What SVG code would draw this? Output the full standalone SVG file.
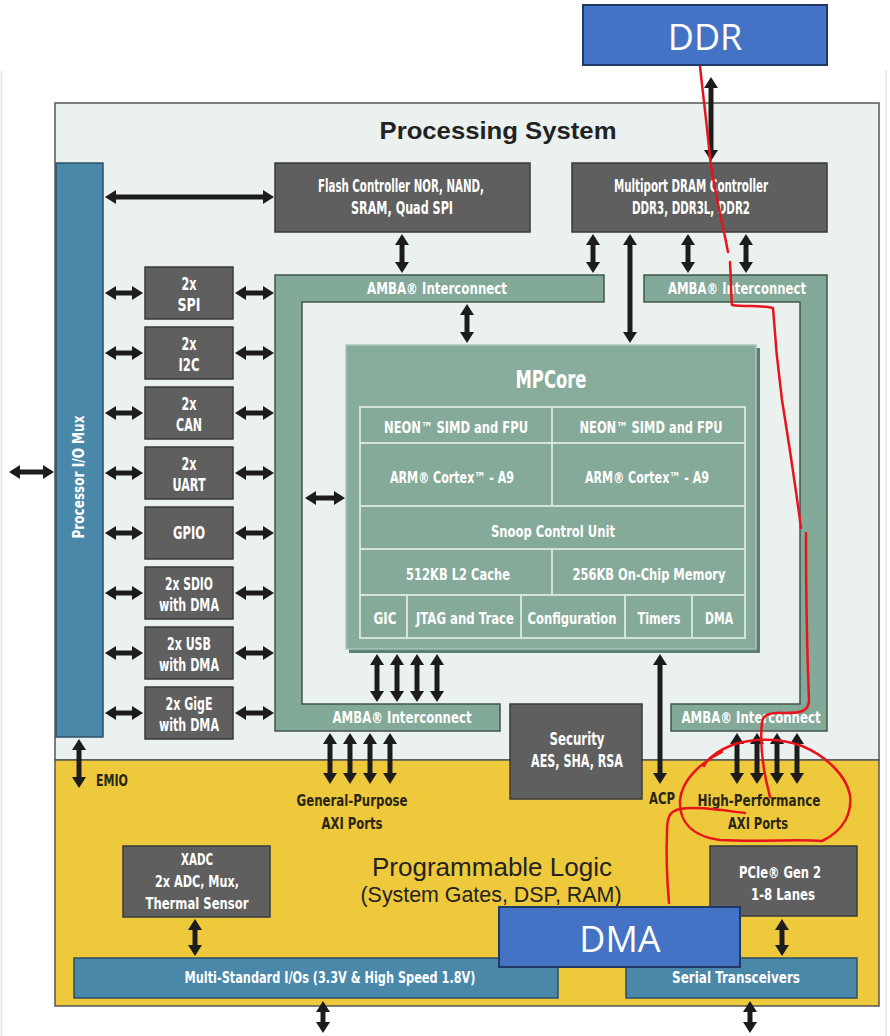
<svg xmlns="http://www.w3.org/2000/svg" width="890" height="1036" viewBox="0 0 890 1036">
<defs>
<marker id="ah" markerUnits="userSpaceOnUse" markerWidth="11" markerHeight="14" viewBox="0 0 11 14" refX="2" refY="7" orient="auto-start-reverse"><path d="M0,0 L11,7 L0,14 z" fill="#1c1c1c"/></marker>
<style>
.lbl{font-family:'DejaVu Sans Condensed','Liberation Sans Narrow','Liberation Sans',sans-serif;font-weight:bold;fill:#ffffff;text-anchor:middle;font-size:17px}
.sm{font-size:15px}
.dk{fill:#2a2614}
.box{fill:#5f5f5f;stroke:#3a3a3a;stroke-width:1.5}
.grn{fill:#83a998;stroke:#40554b;stroke-width:1.5}
.bar{fill:#4a88aa;stroke:#2f4f60;stroke-width:1.5}
.cell{fill:#86aa99;stroke:#d3e3da;stroke-width:2}
.arr{stroke:#1c1c1c;stroke-width:5;fill:none;marker-start:url(#ah);marker-end:url(#ah)}
.red{fill:none;stroke:#e8141c;stroke-width:2.5;stroke-linecap:round;stroke-linejoin:round}
.blue{fill:#4472c4;stroke:#1f3864;stroke-width:2}
.big{font-family:'Open Sans','Noto Sans',sans-serif;fill:#ffffff;text-anchor:middle;font-size:36px}
.pl{font-family:'Liberation Sans',Arial,sans-serif;fill:#222222;text-anchor:middle}
</style>
</defs>
<rect width="890" height="1036" fill="#ffffff"/>
<path d="M1.5,1036 V71 M886,70 V1036" stroke="#e4e4e4" stroke-width="1.5" fill="none"/>

<g id="processing-system">
<rect x="55" y="103" width="824" height="657" fill="#eaf1ef" stroke="#555555" stroke-width="1.5"/>
<text x="498" y="139" class="pl" style="font-weight:bold;font-size:24px" textLength="237" lengthAdjust="spacingAndGlyphs">Processing System</text>
</g>
<g id="programmable-logic">
<rect x="55" y="760" width="824" height="246" fill="#efc93c" stroke="#555555" stroke-width="1.5"/>
<text x="492" y="876" class="pl" style="font-size:26px" textLength="240" lengthAdjust="spacingAndGlyphs">Programmable Logic</text>
<text x="491" y="902" class="pl" style="font-size:22px" textLength="261" lengthAdjust="spacingAndGlyphs">(System Gates, DSP, RAM)</text>
</g>

<g id="io-mux">
<rect x="56" y="163" width="47" height="574" class="bar"/>
<text class="lbl sm" transform="translate(84,477) rotate(-90)" textLength="123" lengthAdjust="spacingAndGlyphs">Processor I/O Mux</text>
</g>

<g id="flash">
<rect x="275" y="163" width="255" height="69" class="box"/>
<text x="401" y="192" class="lbl" textLength="166" lengthAdjust="spacingAndGlyphs">Flash Controller NOR, NAND,</text>
<text x="402" y="214" class="lbl" textLength="102" lengthAdjust="spacingAndGlyphs">SRAM, Quad SPI</text>
</g>
<g id="dram">
<rect x="572" y="163" width="255" height="69" class="box"/>
<text x="691" y="192" class="lbl" textLength="154" lengthAdjust="spacingAndGlyphs">Multiport DRAM Controller</text>
<text x="691" y="214" class="lbl" textLength="118" lengthAdjust="spacingAndGlyphs">DDR3, DDR3L, DDR2</text>
</g>

<g id="spi"><rect x="145" y="267" width="88" height="52" class="box"/>
<text x="189" y="290" class="lbl" textLength="15" lengthAdjust="spacingAndGlyphs">2x</text><text x="189" y="311" class="lbl" textLength="23" lengthAdjust="spacingAndGlyphs">SPI</text></g>
<g id="i2c"><rect x="145" y="327" width="88" height="52" class="box"/>
<text x="189" y="350" class="lbl" textLength="15" lengthAdjust="spacingAndGlyphs">2x</text><text x="189" y="371" class="lbl" textLength="21" lengthAdjust="spacingAndGlyphs">I2C</text></g>
<g id="can"><rect x="145" y="387" width="88" height="52" class="box"/>
<text x="189" y="410" class="lbl" textLength="15" lengthAdjust="spacingAndGlyphs">2x</text><text x="189" y="431" class="lbl" textLength="26" lengthAdjust="spacingAndGlyphs">CAN</text></g>
<g id="uart"><rect x="145" y="447" width="88" height="52" class="box"/>
<text x="189" y="470" class="lbl" textLength="15" lengthAdjust="spacingAndGlyphs">2x</text><text x="189" y="491" class="lbl" textLength="33" lengthAdjust="spacingAndGlyphs">UART</text></g>
<g id="gpio"><rect x="145" y="507" width="88" height="52" class="box"/>
<text x="189" y="539" class="lbl" textLength="32" lengthAdjust="spacingAndGlyphs">GPIO</text></g>
<g id="sdio"><rect x="145" y="567" width="88" height="52" class="box"/>
<text x="189" y="590" class="lbl" textLength="48" lengthAdjust="spacingAndGlyphs">2x SDIO</text><text x="189" y="611" class="lbl" textLength="60" lengthAdjust="spacingAndGlyphs">with DMA</text></g>
<g id="usb"><rect x="145" y="627" width="88" height="52" class="box"/>
<text x="189" y="650" class="lbl" textLength="44" lengthAdjust="spacingAndGlyphs">2x USB</text><text x="189" y="671" class="lbl" textLength="60" lengthAdjust="spacingAndGlyphs">with DMA</text></g>
<g id="gige"><rect x="145" y="687" width="88" height="52" class="box"/>
<text x="189" y="710" class="lbl" textLength="47" lengthAdjust="spacingAndGlyphs">2x GigE</text><text x="189" y="731" class="lbl" textLength="60" lengthAdjust="spacingAndGlyphs">with DMA</text></g>

<g id="amba-left">
<polygon points="275,275 604,275 604,302 302,302 302,704 500,704 500,731 275,731" class="grn"/>
<text x="437" y="294" class="lbl sm" textLength="140" lengthAdjust="spacingAndGlyphs">AMBA® Interconnect</text>
<text x="402" y="723" class="lbl sm" textLength="139" lengthAdjust="spacingAndGlyphs">AMBA® Interconnect</text>
</g>
<g id="amba-right">
<polygon points="644,275 827,275 827,731 671,731 671,704 800,704 800,302 644,302" class="grn"/>
<text x="737" y="294" class="lbl sm" textLength="138" lengthAdjust="spacingAndGlyphs">AMBA® Interconnect</text>
<text x="751" y="723" class="lbl sm" textLength="139" lengthAdjust="spacingAndGlyphs">AMBA® Interconnect</text>
</g>

<g id="mpcore">
<rect x="349" y="348" width="411" height="305" fill="#5f7f70"/>
<rect x="346" y="345" width="410" height="304" fill="#88ac9b" stroke="#a9c7b8" stroke-width="1.5"/>
<text x="551" y="388" class="lbl" style="font-size:24px" textLength="71" lengthAdjust="spacingAndGlyphs">MPCore</text>
<rect x="360" y="407" width="192" height="36" class="cell"/>
<rect x="552" y="407" width="193" height="36" class="cell"/>
<rect x="360" y="443" width="192" height="63" class="cell"/>
<rect x="552" y="443" width="193" height="63" class="cell"/>
<rect x="360" y="506" width="385" height="43" class="cell"/>
<rect x="360" y="549" width="192" height="46" class="cell"/>
<rect x="552" y="549" width="193" height="46" class="cell"/>
<rect x="360" y="595" width="47" height="43" class="cell"/>
<rect x="407" y="595" width="114" height="43" class="cell"/>
<rect x="521" y="595" width="104" height="43" class="cell"/>
<rect x="625" y="595" width="67" height="43" class="cell"/>
<rect x="692" y="595" width="53" height="43" class="cell"/>
<text x="456" y="433" class="lbl sm" textLength="144" lengthAdjust="spacingAndGlyphs">NEON™ SIMD and FPU</text>
<text x="651" y="433" class="lbl sm" textLength="143" lengthAdjust="spacingAndGlyphs">NEON™ SIMD and FPU</text>
<text x="452" y="483" class="lbl sm" textLength="124" lengthAdjust="spacingAndGlyphs">ARM® Cortex™ - A9</text>
<text x="647" y="483" class="lbl sm" textLength="124" lengthAdjust="spacingAndGlyphs">ARM® Cortex™ - A9</text>
<text x="553" y="537" class="lbl sm" textLength="124" lengthAdjust="spacingAndGlyphs">Snoop Control Unit</text>
<text x="458" y="580" class="lbl sm" textLength="104" lengthAdjust="spacingAndGlyphs">512KB L2 Cache</text>
<text x="649" y="580" class="lbl sm" textLength="153" lengthAdjust="spacingAndGlyphs">256KB On-Chip Memory</text>
<text x="385" y="624" class="lbl sm" textLength="23" lengthAdjust="spacingAndGlyphs">GIC</text>
<text x="465" y="624" class="lbl sm" textLength="98" lengthAdjust="spacingAndGlyphs">JTAG and Trace</text>
<text x="572" y="624" class="lbl sm" textLength="89" lengthAdjust="spacingAndGlyphs">Configuration</text>
<text x="659" y="624" class="lbl sm" textLength="43" lengthAdjust="spacingAndGlyphs">Timers</text>
<text x="719" y="624" class="lbl sm" textLength="28" lengthAdjust="spacingAndGlyphs">DMA</text>
</g>

<g id="security">
<rect x="510" y="704" width="132" height="95" class="box"/>
<text x="577" y="745" class="lbl" textLength="55" lengthAdjust="spacingAndGlyphs">Security</text>
<text x="577" y="767" class="lbl" textLength="92" lengthAdjust="spacingAndGlyphs">AES, SHA, RSA</text>
</g>

<g id="port-labels">
<text x="112" y="786" class="lbl sm dk" textLength="32" lengthAdjust="spacingAndGlyphs">EMIO</text>
<text x="352" y="806" class="lbl sm dk" textLength="111" lengthAdjust="spacingAndGlyphs">General-Purpose</text>
<text x="352" y="829" class="lbl sm dk" textLength="61" lengthAdjust="spacingAndGlyphs">AXI Ports</text>
<text x="662" y="804" class="lbl sm dk" textLength="26" lengthAdjust="spacingAndGlyphs">ACP</text>
<text x="759" y="806" class="lbl sm dk" textLength="123" lengthAdjust="spacingAndGlyphs">High-Performance</text>
<text x="758" y="829" class="lbl sm dk" textLength="60" lengthAdjust="spacingAndGlyphs">AXI Ports</text>
</g>

<g id="xadc">
<rect x="123" y="846" width="147" height="71" class="box"/>
<text x="197" y="865" class="lbl sm" textLength="32" lengthAdjust="spacingAndGlyphs">XADC</text>
<text x="197" y="887" class="lbl sm" textLength="84" lengthAdjust="spacingAndGlyphs">2x ADC, Mux,</text>
<text x="197" y="909" class="lbl sm" textLength="103" lengthAdjust="spacingAndGlyphs">Thermal Sensor</text>
</g>
<g id="pcie">
<rect x="710" y="846" width="147" height="70" class="box"/>
<text x="780" y="878" class="lbl sm" textLength="82" lengthAdjust="spacingAndGlyphs">PCIe® Gen 2</text>
<text x="783" y="900" class="lbl sm" textLength="64" lengthAdjust="spacingAndGlyphs">1-8 Lanes</text>
</g>
<g id="multi-io">
<rect x="74" y="958" width="484" height="40" class="bar"/>
<text x="330" y="983" class="lbl sm" textLength="291" lengthAdjust="spacingAndGlyphs">Multi-Standard I/Os (3.3V &amp; High Speed 1.8V)</text>
</g>
<g id="serial">
<rect x="626" y="958" width="231" height="40" class="bar"/>
<text x="736" y="983" class="lbl sm" textLength="128" lengthAdjust="spacingAndGlyphs">Serial Transceivers</text>
</g>

<g id="connectors">
<line x1="114" y1="197" x2="265" y2="197" class="arr"/>
<line x1="114" y1="293" x2="134" y2="293" class="arr"/><line x1="244" y1="293" x2="265" y2="293" class="arr"/>
<line x1="114" y1="353" x2="134" y2="353" class="arr"/><line x1="244" y1="353" x2="265" y2="353" class="arr"/>
<line x1="114" y1="413" x2="134" y2="413" class="arr"/><line x1="244" y1="413" x2="265" y2="413" class="arr"/>
<line x1="114" y1="473" x2="134" y2="473" class="arr"/><line x1="244" y1="473" x2="265" y2="473" class="arr"/>
<line x1="114" y1="533" x2="134" y2="533" class="arr"/><line x1="244" y1="533" x2="265" y2="533" class="arr"/>
<line x1="114" y1="593" x2="134" y2="593" class="arr"/><line x1="244" y1="593" x2="265" y2="593" class="arr"/>
<line x1="114" y1="653" x2="134" y2="653" class="arr"/><line x1="244" y1="653" x2="265" y2="653" class="arr"/>
<line x1="114" y1="713" x2="134" y2="713" class="arr"/><line x1="244" y1="713" x2="265" y2="713" class="arr"/>
<line x1="18" y1="472" x2="45" y2="472" class="arr"/>
<line x1="314" y1="498" x2="336" y2="498" class="arr"/>
<line x1="402" y1="243" x2="402" y2="264" class="arr"/>
<line x1="467" y1="313" x2="467" y2="334" class="arr"/>
<line x1="593" y1="243" x2="593" y2="264" class="arr"/>
<line x1="630" y1="243" x2="630" y2="334" class="arr"/>
<line x1="688" y1="243" x2="688" y2="264" class="arr"/>
<line x1="746" y1="243" x2="746" y2="264" class="arr"/>
<line x1="711" y1="86" x2="711" y2="152" class="arr"/>
<line x1="377" y1="663" x2="377" y2="693" class="arr"/>
<line x1="397" y1="663" x2="397" y2="693" class="arr"/>
<line x1="417" y1="663" x2="417" y2="693" class="arr"/>
<line x1="437" y1="663" x2="437" y2="693" class="arr"/>
<line x1="330" y1="742" x2="330" y2="775" class="arr"/>
<line x1="350" y1="742" x2="350" y2="775" class="arr"/>
<line x1="370" y1="742" x2="370" y2="775" class="arr"/>
<line x1="390" y1="742" x2="390" y2="775" class="arr"/>
<line x1="660" y1="663" x2="660" y2="775" class="arr"/>
<line x1="737" y1="742" x2="737" y2="775" class="arr"/>
<line x1="757" y1="742" x2="757" y2="775" class="arr"/>
<line x1="777" y1="742" x2="777" y2="775" class="arr"/>
<line x1="797" y1="742" x2="797" y2="775" class="arr"/>
<line x1="79" y1="748" x2="79" y2="779" class="arr"/>
<line x1="195" y1="928" x2="195" y2="947" class="arr"/>
<line x1="782" y1="928" x2="782" y2="947" class="arr"/>
<line x1="323" y1="1010" x2="323" y2="1024" class="arr"/>
<line x1="750" y1="1010" x2="750" y2="1024" class="arr"/>
</g>

<g id="annotation">
<path class="red" d="M700,66 C703,95 707,125 710,158 C714,190 722,220 728,252 M730,262 C731,280 731,295 732,305 C745,307 760,305 773,308 C775,340 778,370 782,400 C790,450 796,490 801,528 M806,533 C806,590 807,650 809,700 C809,712 800,713 785,713 C772,712 763,714 762,722 C760,740 762,760 766,780 L770,797"/>
<path class="red" d="M722,752 C700,763 682,780 680,800 C679,820 690,836 720,840 C760,842 800,839 822,841 C845,830 852,812 850,795 C846,775 826,756 802,746 C780,738 755,738 735,744 C718,750 706,760 704,766"/>
<path class="red" d="M745,813 C720,810 695,806 680,809 C669,811 667,818 667,832 C666,856 667,880 669,903"/>
</g>

<g id="ddr">
<rect x="583" y="5" width="244" height="60" class="blue"/>
<text x="705" y="50" class="big">DDR</text>
</g>
<g id="dma">
<rect x="499" y="907" width="241" height="60" class="blue"/>
<text x="620" y="952" class="big">DMA</text>
</g>
</svg>
